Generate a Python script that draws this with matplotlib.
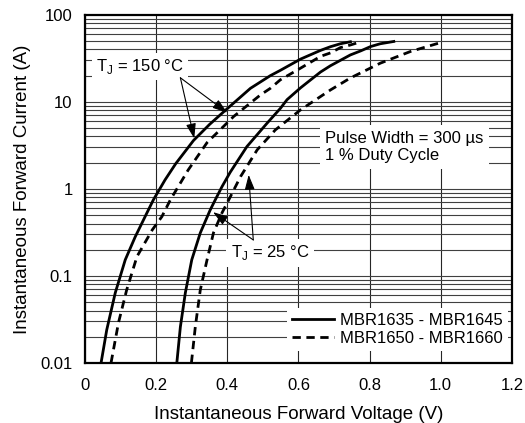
import numpy as np
import matplotlib
matplotlib.use('Agg')
from matplotlib import pyplot as plt

plt.rcParams['font.family'] = ['Liberation Sans', 'DejaVu Sans']

# forward characteristics (V, A)
v_150_solid = [0.045, 0.061, 0.085, 0.113, 0.141, 0.174, 0.192, 0.225, 0.255, 0.305,
               0.35, 0.39, 0.465, 0.521, 0.549, 0.606, 0.662, 0.69, 0.718, 0.746]
i_150_solid = [0.01, 0.024, 0.064, 0.153, 0.281, 0.53, 0.747, 1.27, 1.95, 3.6,
               5.5, 7.7, 14.3, 20, 23, 31, 39, 43, 46.5, 49]
v_150_dash = [0.073, 0.094, 0.117, 0.146, 0.189, 0.216, 0.24, 0.29, 0.343, 0.418,
              0.493, 0.521, 0.549, 0.606, 0.662, 0.69, 0.718, 0.746, 0.775]
i_150_dash = [0.01, 0.029, 0.069, 0.167, 0.338, 0.48, 0.75, 1.65, 3.4, 6.8,
              12, 14.3, 17.9, 24.4, 33.3, 36.5, 42, 45, 49]
v_25_solid = [0.258, 0.268, 0.282, 0.30, 0.324, 0.352, 0.366, 0.385, 0.408, 0.455,
              0.512, 0.549, 0.568, 0.606, 0.662, 0.69, 0.718, 0.746, 0.775, 0.803,
              0.83, 0.868]
i_25_solid = [0.01, 0.026, 0.064, 0.153, 0.312, 0.574, 0.747, 1.06, 1.55, 3.06,
              5.7, 8.4, 10.6, 14.5, 22, 26, 30, 34.6, 38.5, 43.2,
              46.5, 49.4]
v_25_dash = [0.299, 0.31, 0.324, 0.343, 0.361, 0.385, 0.404, 0.437, 0.484, 0.535,
             0.606, 0.69, 0.746, 0.83, 0.915, 1.0]
i_25_dash = [0.01, 0.026, 0.069, 0.153, 0.312, 0.53, 0.747, 1.38, 2.81, 4.76,
             8.1, 13.7, 18.8, 27.8, 37.9, 48]

x_ticks = [0, 0.2, 0.4, 0.6, 0.8, 1.0, 1.2]
x_labels = ['0', '0.2', '0.4', '0.6', '0.8', '1.0', '1.2']
y_ticks = [0.01, 0.1, 1, 10, 100]
y_labels = ['0.01', '0.1', '1', '10', '100']

fig = plt.figure(figsize=(5.25, 4.23), dpi=100)
ax = fig.add_axes([0.162, 0.142, 0.813, 0.823])
ax.set_yscale('log')
ax.set_xlim(0, 1.2)
ax.set_ylim(0.01, 100)

# grid
for xv in x_ticks:
    ax.axvline(xv, color='0.15', lw=0.8, zorder=1)
for dec in [0.01, 0.1, 1, 10]:
    for m in range(1, 10):
        ax.axhline(dec * m, color='0.25', lw=0.8, zorder=1)

lw = 2.0
dash = (0, (3, 2))
ax.plot(v_150_solid, i_150_solid, color='k', lw=lw, zorder=3, label='MBR1635 - MBR1645')
ax.plot(v_150_dash, i_150_dash, color='k', lw=lw, ls=dash, zorder=3, label='MBR1650 - MBR1660')
ax.plot(v_25_solid, i_25_solid, color='k', lw=lw, zorder=3)
ax.plot(v_25_dash, i_25_dash, color='k', lw=lw, ls=dash, zorder=3)

ax.set_xticks(x_ticks)
ax.set_xticklabels(x_labels)
ax.set_yticks(y_ticks)
ax.set_yticklabels(y_labels)
ax.minorticks_off()
ax.tick_params(axis='x', length=0, labelsize=12, pad=11)
ax.tick_params(axis='y', length=0, labelsize=12, pad=9)
ax.set_xlabel('Instantaneous Forward Voltage (V)', fontsize=13.5, labelpad=9)
ax.set_ylabel('Instantaneous Forward Current (A)', fontsize=13.5, labelpad=7)
for s in ax.spines.values():
    s.set_linewidth(1.6)
    s.set_zorder(5)

box = dict(fc='white', ec='none', pad=3)
arr = dict(arrowstyle='-|>,head_length=0.9,head_width=0.3', color='k', lw=0.8,
           mutation_scale=10, shrinkA=0, shrinkB=0)

ax.text(0.155, 25.3, 'T$_\\mathregular{J}$ = 150 °C', ha='center', va='center',
        fontsize=12, bbox=box, zorder=4)
ax.annotate('', xy=(0.40, 7.5), xytext=(0.268, 18.9), arrowprops=arr, zorder=4)
ax.annotate('', xy=(0.307, 3.8), xytext=(0.268, 18.9), arrowprops=arr, zorder=4)

ax.text(0.52, 0.184, 'T$_\\mathregular{J}$ = 25 °C', ha='center', va='center',
        fontsize=12, bbox=box, zorder=4)
ax.annotate('', xy=(0.36, 0.54), xytext=(0.473, 0.259), arrowprops=arr, zorder=4)
ax.annotate('', xy=(0.46, 1.45), xytext=(0.473, 0.259), arrowprops=arr, zorder=4)

ax.text(0.676, 3.04, 'Pulse Width = 300 µs\n1 % Duty Cycle', ha='left', va='center',
        fontsize=12, linespacing=1.2,
        bbox=dict(fc='white', ec='none', pad=4), zorder=4)

leg = ax.legend(loc='lower right', bbox_to_anchor=(0.99, 0.035), fontsize=12,
                frameon=True, fancybox=False, handlelength=2.5, handletextpad=0.35,
                labelspacing=0.15, borderpad=0.3, borderaxespad=0)
leg.get_frame().set_facecolor('white')
leg.get_frame().set_edgecolor('none')
leg.get_frame().set_alpha(1)
leg.set_zorder(4)

fig.savefig('out.png', dpi=100)
